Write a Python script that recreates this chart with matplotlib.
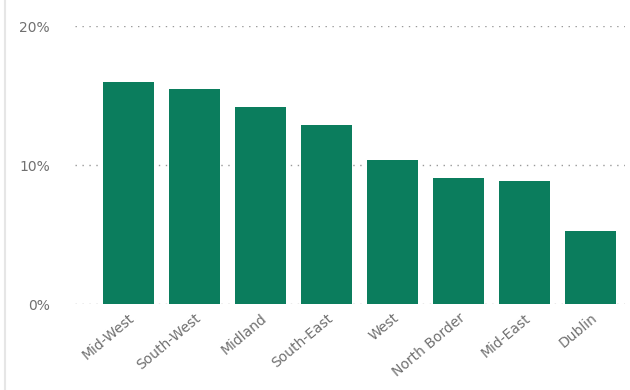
import numpy as np
import matplotlib.pyplot as plt
from matplotlib.ticker import FuncFormatter

regions = ['Mid-West', 'South-West', 'Midland', 'South-East', 'West',
           'North Border', 'Mid-East', 'Dublin']
values = [16.0, 15.5, 14.2, 12.9, 10.4, 9.1, 8.85, 5.25]

fig = plt.figure(figsize=(6.3, 3.9), dpi=100)
ax = fig.add_axes([0.119, 0.2205, 0.873, 0.7125])

x = np.arange(len(regions))
ax.bar(x, values, width=0.77, color='#0b7d5d', zorder=2)

ax.set_ylim(0, 20)
ax.set_xlim(-0.81, 7.52)
ax.set_yticks([0, 10, 20])
ax.yaxis.set_major_formatter(FuncFormatter(lambda v, p: f'{v:.0f}%'))
ax.grid(axis='y', linestyle=(0, (1, 4)), color='#999999', linewidth=1, zorder=0)

ax.set_xticks(x)
ax.set_xticklabels(regions, rotation=40, ha='right', rotation_mode='anchor')
ax.tick_params(axis='both', length=0, labelsize=10, colors='#707070')
ax.tick_params(axis='x', pad=5)
ax.tick_params(axis='y', pad=18)
for s in ax.spines.values():
    s.set_visible(False)

fig.add_artist(plt.Line2D([0.008, 0.008], [0, 1], color='#e6e6e6', linewidth=1.5))

fig.savefig('out.png', dpi=100)
